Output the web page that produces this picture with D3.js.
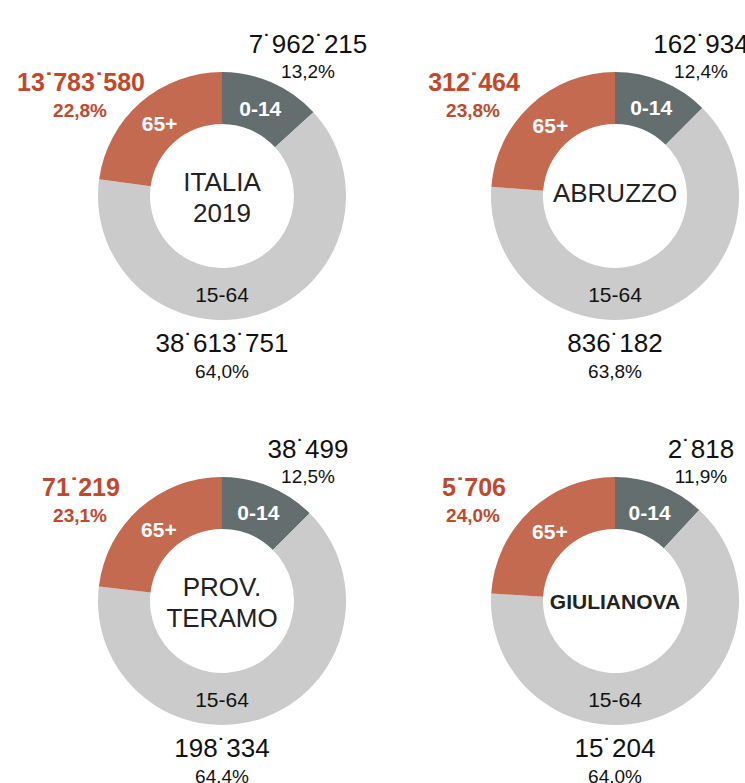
<!DOCTYPE html>
<html>
<head>
<meta charset="utf-8">
<style>
  html, body { margin: 0; padding: 0; background: #fff; }
  svg { display: block; font-family: "Liberation Sans", Arial, Helvetica, sans-serif; }
</style>
</head>
<body>
<script src="https://cdn.jsdelivr.net/npm/d3@7"></script>
<svg></svg>
<script>
// dati: popolazione per fascia d'età (2019)
const regions   = [["ITALIA", "2019"], ["ABRUZZO"], ["PROV.", "TERAMO"], ["GIULIANOVA"]];
const ageGroups = ["0-14", "15-64", "65+"];
const pop0_14   = [7962215, 162934, 38499, 2818];
const pop15_64  = [38613751, 836182, 198334, 15204];
const pop65     = [13783580, 312464, 71219, 5706];
const pct0_14   = ["13,2%", "12,4%", "12,5%", "11,9%"];
const pct15_64  = ["64,0%", "63,8%", "64.4%", "64.0%"];
const pct65     = ["22,8%", "23,8%", "23,1%", "24,0%"];

const width = 745, height = 783;
const colX = [222, 615];
const rowY = [196, 601];
const outerR = 124, innerR = 72;

const colors = d3.scaleOrdinal()
    .domain(ageGroups)
    .range(["#646e6e", "#cbcbcb", "#c46a50"]);
const redText = "#c0482c";

// separatore delle migliaia "˙"
const fmt = d3.formatLocale({ decimal: ",", thousands: "\u02D9", grouping: [3], currency: ["", ""] }).format(",d");

const svg = d3.select("svg")
    .attr("width", width)
    .attr("height", height)
    .attr("viewBox", [0, 0, width, height]);

const pie = d3.pie().sort(null).value(d => d.value);
const arc = d3.arc().innerRadius(innerR).outerRadius(outerR);
const labelArc = d3.arc().innerRadius(95).outerRadius(95);

regions.forEach((name, i) => {
    const cx = colX[i % 2];
    const cy = rowY[Math.floor(i / 2)];
    const slices = [
        { key: "0-14", value: pop0_14[i] },
        { key: "15-64", value: pop15_64[i] },
        { key: "65+", value: pop65[i] }
    ];
    const g = svg.append("g").attr("transform", `translate(${cx},${cy})`);

    const arcs = pie(slices);
    g.selectAll("path")
        .data(arcs)
        .join("path")
        .attr("d", arc)
        .attr("fill", d => colors(d.data.key));

    // etichette dentro l'anello
    g.selectAll(".seg")
        .data(arcs)
        .join("text")
        .attr("class", "seg")
        .attr("text-anchor", "middle")
        .attr("transform", d => {
            if (d.data.key === "15-64") return `translate(0,${outerR - 18})`;
            const [x, y] = labelArc.centroid(d);
            return `translate(${x},${y + 7})`;
        })
        .attr("font-size", 21)
        .attr("font-weight", d => d.data.key === "15-64" ? "normal" : "bold")
        .attr("fill", d => d.data.key === "15-64" ? "#111" : "#fff")
        .text(d => d.data.key);

    // nome al centro
    const big = name[0] === "GIULIANOVA";
    const two = name.length > 1;
    g.append("text")
        .attr("text-anchor", "middle")
        .attr("font-size", big ? 21 : 26)
        .attr("font-weight", big ? "bold" : "normal")
        .attr("fill", "#222")
        .selectAll("tspan")
        .data(name)
        .join("tspan")
        .attr("x", 0)
        .attr("y", (d, j) => two ? -5 + j * 31 : (big ? 8 : 6))
        .text(d => d);

    // valori 0-14
    g.append("text").attr("x", 86).attr("y", -143)
        .attr("text-anchor", "middle").attr("font-size", 26).attr("fill", "#111")
        .text(fmt(pop0_14[i]));
    g.append("text").attr("x", 86).attr("y", -118)
        .attr("text-anchor", "middle").attr("font-size", 19).attr("fill", "#111")
        .text(pct0_14[i]);

    // valori 65+
    g.append("text").attr("x", -141).attr("y", -105)
        .attr("text-anchor", "middle").attr("font-size", 25).attr("font-weight", "bold").attr("fill", redText)
        .text(fmt(pop65[i]));
    g.append("text").attr("x", -142).attr("y", -79)
        .attr("text-anchor", "middle").attr("font-size", 19).attr("font-weight", "bold").attr("fill", redText)
        .text(pct65[i]);

    // valori 15-64
    g.append("text").attr("x", 0).attr("y", 156)
        .attr("text-anchor", "middle").attr("font-size", 26).attr("fill", "#111")
        .text(fmt(pop15_64[i]));
    g.append("text").attr("x", 0).attr("y", 182)
        .attr("text-anchor", "middle").attr("font-size", 19).attr("fill", "#111")
        .text(pct15_64[i]);
});
</script>
</body>
</html>
